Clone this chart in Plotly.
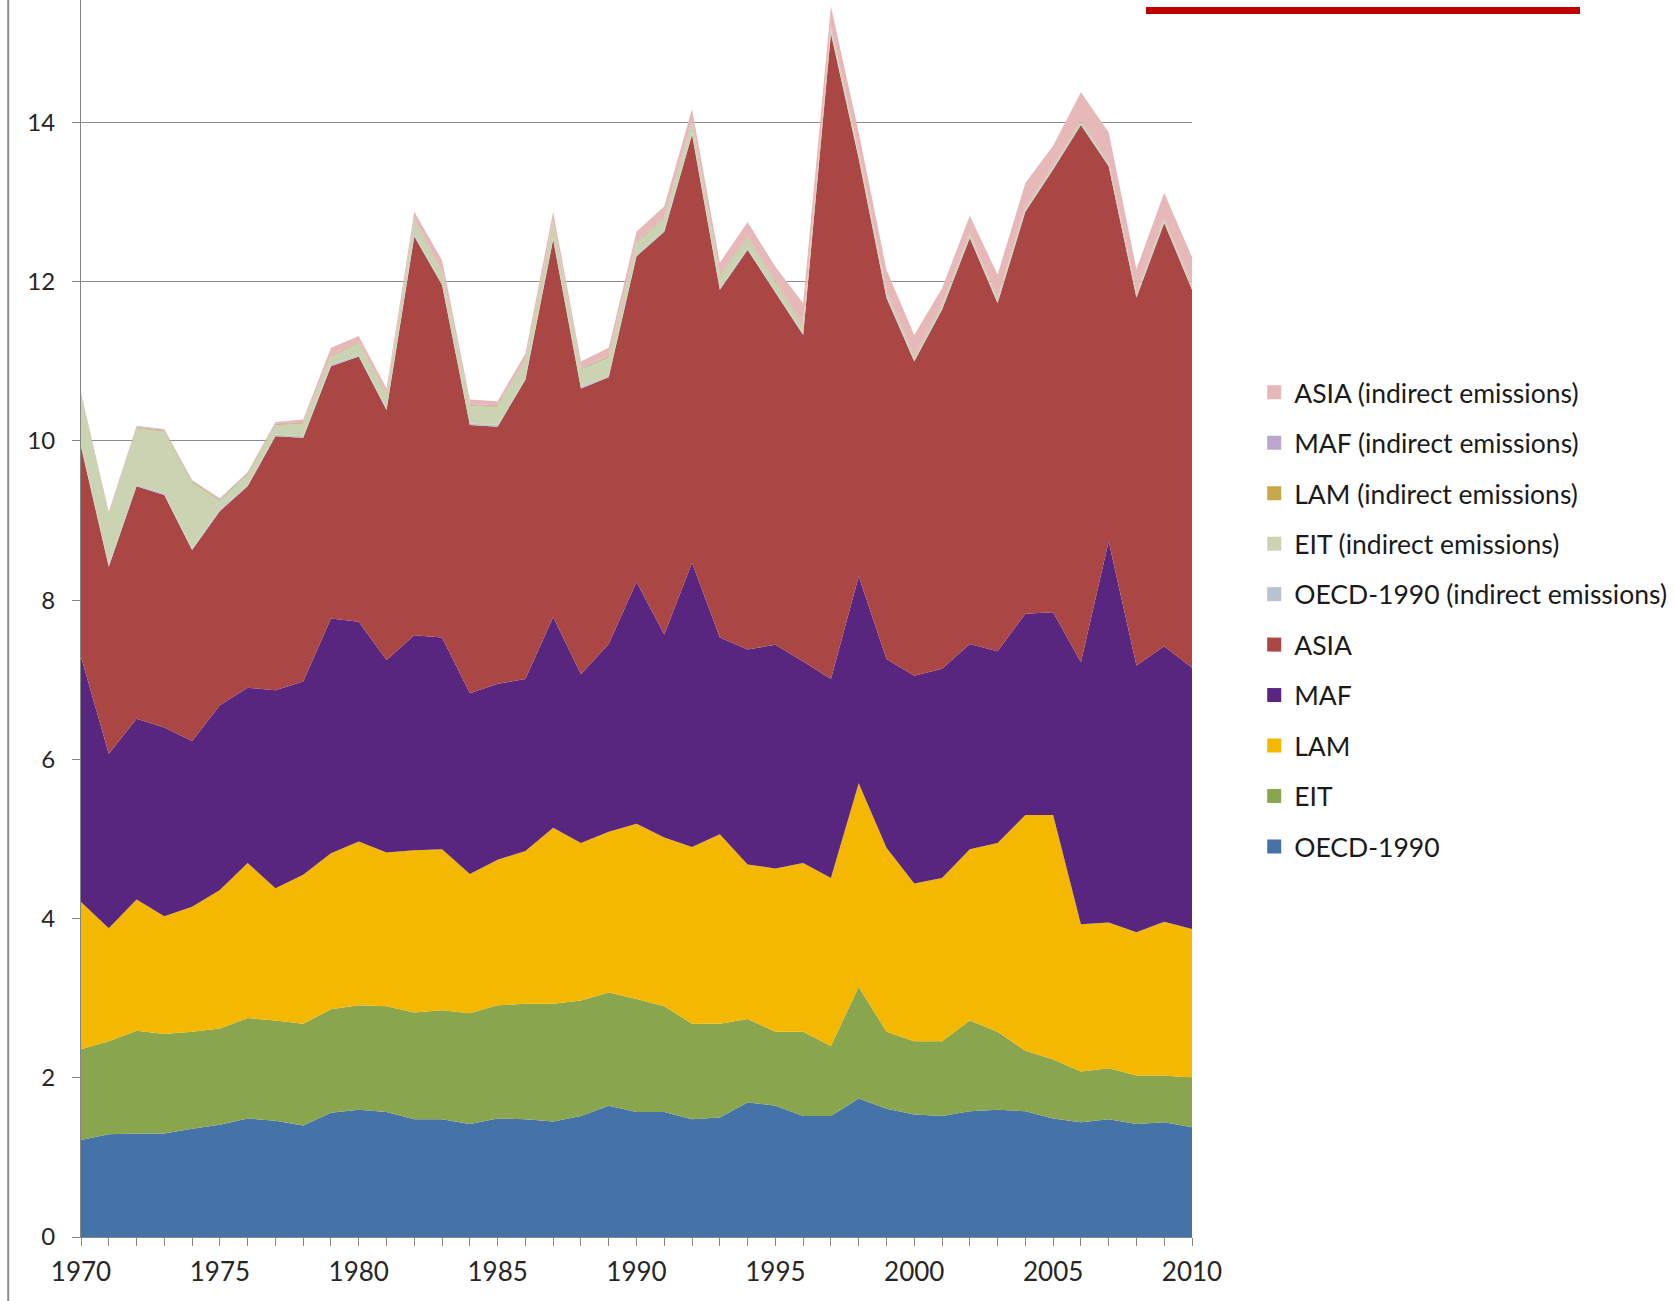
import plotly.graph_objects as go

years = list(range(1970, 2011))

oecd = [1.22, 1.29, 1.30, 1.30, 1.36, 1.41, 1.49, 1.46, 1.40, 1.56, 1.60, 1.57, 1.48, 1.48, 1.42, 1.49, 1.48, 1.45, 1.52, 1.65,
        1.57, 1.57, 1.48, 1.50, 1.69, 1.65, 1.52, 1.52, 1.74, 1.61, 1.54, 1.52, 1.58, 1.60, 1.58, 1.49, 1.44, 1.48, 1.42, 1.44, 1.38]
eit = [1.14, 1.17, 1.29, 1.25, 1.22, 1.21, 1.26, 1.26, 1.28, 1.30, 1.31, 1.33, 1.34, 1.37, 1.39, 1.42, 1.45, 1.48, 1.45, 1.42,
       1.42, 1.33, 1.20, 1.18, 1.05, 0.93, 1.06, 0.88, 1.40, 0.97, 0.92, 0.94, 1.14, 0.98, 0.76, 0.74, 0.64, 0.64, 0.61, 0.59, 0.62]
lam = [1.85, 1.42, 1.65, 1.48, 1.57, 1.74, 1.95, 1.66, 1.87, 1.96, 2.06, 1.93, 2.04, 2.02, 1.75, 1.83, 1.92, 2.21, 1.98, 2.02,
       2.20, 2.12, 2.22, 2.38, 1.94, 2.05, 2.12, 2.11, 2.56, 2.31, 1.98, 2.05, 2.15, 2.37, 2.96, 3.07, 1.85, 1.83, 1.80, 1.93, 1.87]
maf = [3.08, 2.19, 2.27, 2.37, 2.08, 2.32, 2.20, 2.49, 2.43, 2.95, 2.76, 2.42, 2.70, 2.66, 2.27, 2.21, 2.16, 2.65, 2.12, 2.36,
       3.04, 2.55, 3.57, 2.47, 2.70, 2.81, 2.53, 2.50, 2.60, 2.37, 2.61, 2.63, 2.58, 2.41, 2.53, 2.55, 3.29, 4.79, 3.35, 3.46, 3.28]
asia = [2.64, 2.35, 2.92, 2.92, 2.40, 2.44, 2.53, 3.19, 3.06, 3.17, 3.33, 3.14, 5.01, 4.43, 3.37, 3.23, 3.76, 4.74, 3.59, 3.35,
        4.09, 5.06, 5.38, 4.37, 5.02, 4.42, 4.10, 8.11, 5.25, 4.54, 3.95, 4.51, 5.10, 4.37, 5.05, 5.56, 6.75, 4.71, 4.62, 5.32, 4.75]
oecd_ind = [0.02] * 41
eit_ind = [0.63, 0.64, 0.71, 0.78, 0.83, 0.11, 0.13, 0.12, 0.16, 0.10, 0.15, 0.17, 0.19, 0.14, 0.22, 0.23, 0.23, 0.20, 0.22, 0.23,
           0.15, 0.15, 0.13, 0.16, 0.13, 0.11, 0.09, 0.05, 0.05, 0.04, 0.03, 0.03, 0.03, 0.03, 0.02, 0.02, 0.02, 0.02, 0.02, 0.02, 0.02]
lam_ind = [0.01] * 41
maf_ind = [0.01] * 41
asia_ind = [0.01, 0.01, 0.01, 0.01, 0.01, 0.01, 0.01, 0.02, 0.03, 0.09, 0.07, 0.06, 0.08, 0.13, 0.06, 0.05, 0.06, 0.11, 0.08, 0.10,
            0.12, 0.13, 0.15, 0.14, 0.18, 0.18, 0.27, 0.25, 0.24, 0.27, 0.26, 0.20, 0.21, 0.29, 0.30, 0.24, 0.35, 0.37, 0.30, 0.32, 0.35]

series = [
    ("OECD-1990", oecd, "#4572A7"),
    ("EIT", eit, "#89A54E"),
    ("LAM", lam, "#F5B800"),
    ("MAF", maf, "#59267F"),
    ("ASIA", asia, "#AA4643"),
    ("OECD-1990 (indirect emissions)", oecd_ind, "#B9C3CF"),
    ("EIT (indirect emissions)", eit_ind, "#CAD4B2"),
    ("LAM (indirect emissions)", lam_ind, "#C9A84A"),
    ("MAF (indirect emissions)", maf_ind, "#BBA6CC"),
    ("ASIA (indirect emissions)", asia_ind, "#E6B9B8"),
]

fig = go.Figure()
for name, vals, col in series:
    fig.add_trace(go.Scatter(
        x=years, y=vals, name=name, stackgroup="one", mode="lines",
        line=dict(width=0, color=col), fillcolor=col, showlegend=False,
    ))

# legend entries (square swatches), top to bottom
for name, vals, col in reversed(series):
    fig.add_trace(go.Scatter(
        x=[None], y=[None], name=name, mode="markers",
        marker=dict(symbol="square", size=14, color=col), legendgroup=name,
    ))

font_family = "Lato, Carlito, Calibri, sans-serif"

fig.update_layout(
    width=1675, height=1301,
    margin=dict(l=81, r=483, t=0, b=64),
    paper_bgcolor="white", plot_bgcolor="white",
    showlegend=True,
    legend=dict(
        x=1.056, y=0.702, xanchor="left", yanchor="top",
        font=dict(family=font_family, size=26.5, color="#1a1a1a"),
        tracegroupgap=13, itemwidth=30, bgcolor="rgba(0,0,0,0)",
    ),
    xaxis=dict(
        range=[1970, 2010], tickmode="linear", tick0=1970, dtick=5,
        ticks="outside", ticklen=8, tickcolor="#868686",
        showline=True, linecolor="#868686", linewidth=1,
        showgrid=False, zeroline=False, ticklabelstandoff=4,
        tickfont=dict(family=font_family, size=26, color="#262626"),
        minor=dict(dtick=1, ticks="outside", ticklen=8, tickcolor="#868686", showgrid=False),
    ),
    yaxis=dict(
        range=[0, 15.54], tickmode="linear", tick0=0, dtick=2,
        ticks="outside", ticklen=8, tickcolor="#868686",
        showline=True, linecolor="#868686", linewidth=1,
        showgrid=True, gridcolor="#8c8c8c", gridwidth=1, zeroline=False,
        ticklabelstandoff=12,
        tickfont=dict(family=font_family, size=24, color="#262626"),
    ),
    shapes=[
        dict(type="line", xref="paper", yref="paper", x0=-0.0655, x1=-0.0655, y0=-0.06, y1=1.0,
             line=dict(color="#8c8c8c", width=2)),
        dict(type="rect", xref="paper", yref="paper", x0=(1146 - 81) / 1111, x1=(1580 - 81) / 1111,
             y0=(1237 - 14) / 1237, y1=(1237 - 7) / 1237, fillcolor="#C00000", line=dict(width=0)),
    ],
)

fig.write_html("out.html")
